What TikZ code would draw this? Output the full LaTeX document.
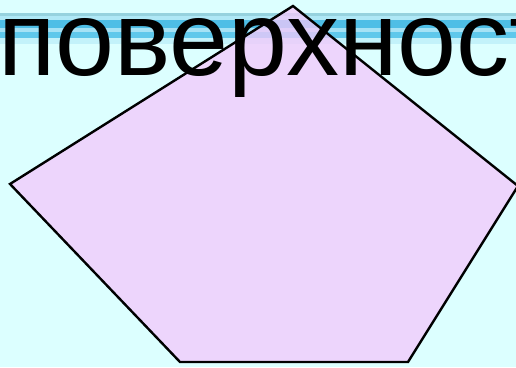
\documentclass[tikz,border=0pt]{standalone}
\usepackage{fontspec}
\setmainfont{Liberation Sans}
\definecolor{bgcyan}{RGB}{220,255,255}
\definecolor{lilac}{RGB}{244,200,251}
\definecolor{barteal}{RGB}{150,210,222}
\definecolor{barlight}{RGB}{175,232,246}
\definecolor{barblue}{RGB}{78,190,230}
\definecolor{barpale}{RGB}{165,226,245}
\definecolor{barmid}{RGB}{95,200,235}
\definecolor{barfade}{RGB}{195,242,250}
\begin{document}
\begin{tikzpicture}[x=1pt,y=1pt]
\useasboundingbox (0,0) rectangle (516,367);
\fill[bgcyan] (0,0) rectangle (516,367);
% bar at the top
\fill[barteal] (0,351) rectangle (516,354);
\fill[barlight] (0,347) rectangle (516,351);
\fill[barblue] (0,339) rectangle (516,347);
\fill[barpale] (0,335) rectangle (516,339);
\fill[barmid] (0,329) rectangle (516,335);
\fill[barfade] (0,323) rectangle (516,329);
% pentagon
\coordinate (top) at (293,361);
\coordinate (right) at (518,181);
\coordinate (br) at (408,5);
\coordinate (bl) at (180,5);
\coordinate (left) at (10,183);
\fill[lilac, fill opacity=0.75] (top) -- (right) -- (br) -- (bl) -- (left) -- cycle;
\draw[line width=2.4pt, line join=miter] (top) -- (right) -- (br) -- (bl) -- (left) -- cycle;
\node[anchor=base west, inner sep=0pt, font=\fontsize{106}{110}\selectfont] (word) at (-2,291) {поверхност};
\end{tikzpicture}
\end{document}
